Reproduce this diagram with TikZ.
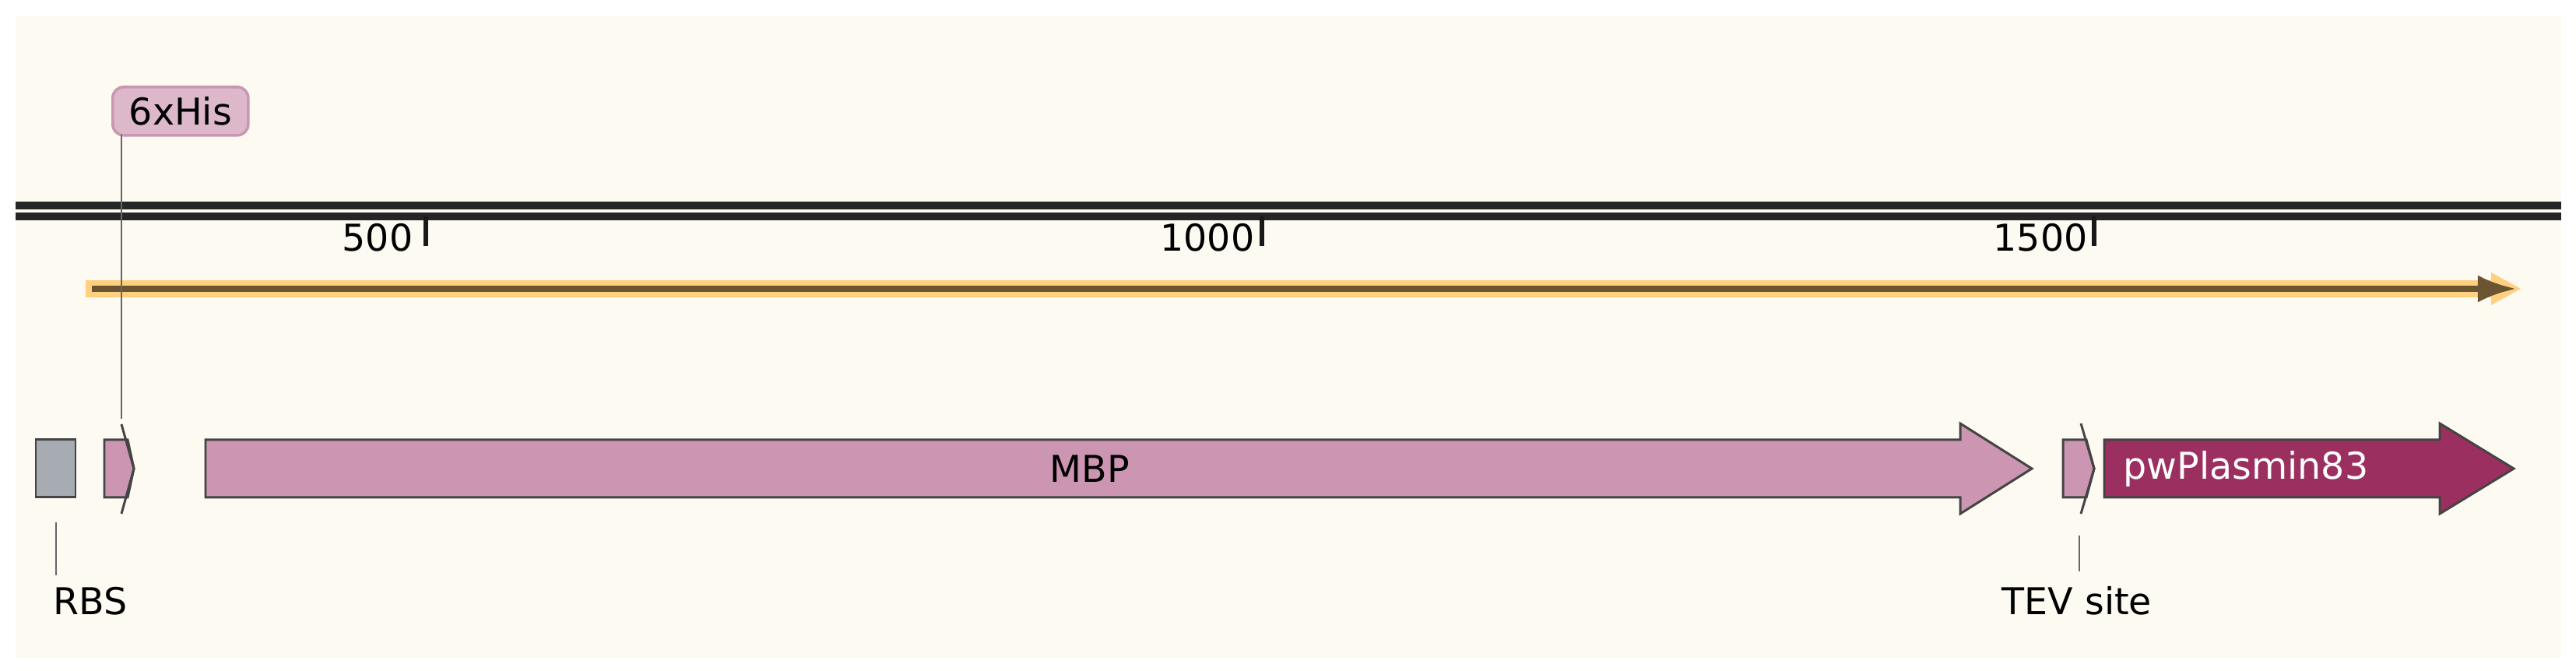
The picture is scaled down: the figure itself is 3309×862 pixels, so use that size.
\documentclass[tikz,border=0pt]{standalone}
\usepackage{fontspec}
\setmainfont{DejaVu Sans}
\usetikzlibrary{calc,arrows.meta}
\definecolor{bg}{HTML}{FDFAF2}
\definecolor{pinkf}{HTML}{CC96B2}
\definecolor{pinkl}{HTML}{DDB8CB}
\definecolor{pinkb}{HTML}{C998B0}
\definecolor{magf}{HTML}{9B3060}
\definecolor{grayf}{HTML}{A7ACB3}
\definecolor{outl}{HTML}{444444}
\definecolor{yel}{HTML}{FFD080}
\definecolor{brn}{HTML}{6B5530}
\tikzset{
  feat/.style={draw=outl,line width=0.85pt,line join=miter},
  lbl/.style={font=\fontsize{13.5}{15}\selectfont,inner sep=0pt},
  leader/.style={draw=gray!80!black,line width=0.8pt},
  tick/.style={line width=1.8pt,draw=black!90}
}
\begin{document}
\begin{tikzpicture}[x=0.01cm,y=-0.01cm]
\useasboundingbox (0,0) rectangle (3309,862);
\fill[white] (0,0) rectangle (3309,862);
\fill[bg] (20,20) rectangle (3290,845);
% backbone
\draw[line width=3pt,black!85] (20,264) -- (3290,264);
\draw[line width=3pt,black!85] (20,278) -- (3290,278);
% ticks
\draw[tick] (547,278) -- (547,316); \node[lbl,anchor=base] (t500) at (485,323) {500};
\draw[tick] (1621,278) -- (1621,316); \node[lbl,anchor=base] (t1000) at (1551,323) {1000};
\draw[tick] (2690,278) -- (2690,316); \node[lbl,anchor=base] (t1500) at (2621,323) {1500};
% yellow arrow
\coordinate (ya) at (110,371); \coordinate (yb) at (3229,371);
\draw[yel,line width=6pt] (ya) -- ($(yb)+(-10,0)$);
\fill[yel] (3200,350) -- (3238,371) -- (3200,392) -- cycle;
\draw[brn,line width=2pt,-{Latex[length=14pt,width=10pt]}] (118,371) -- (3232,371);
% RBS
\draw[feat,fill=grayf] (46,565) rectangle (97,639);
\node[lbl,anchor=base west] (rbsl) at (68,790) {RBS};
\draw[leader] (72,671) -- (72,739);
% 6xHis feature
\draw[feat,fill=pinkf] (134,565) -- (164,565) -- (172,602) -- (164,639) -- (134,639) -- cycle;
\draw[outl,line width=0.85pt] (156,545) -- (172,602) -- (156,660);
\node[draw=pinkb,fill=pinkl,rounded corners=4pt,line width=1pt,lbl,inner xsep=6pt,minimum height=0.62cm,anchor=north west] (his) at (143,110) {6xHis};
\draw[leader] (156,173) -- (156,538);
% MBP
\draw[feat,fill=pinkf] (264,565) -- (2518,565) -- (2518,544) -- (2610,602) -- (2518,660) -- (2518,639) -- (264,639) -- cycle;
\node[lbl] (mbp) at (1400,602) {MBP};
% TEV
\draw[feat,fill=pinkf] (2650,565) -- (2680,565) -- (2690,602) -- (2680,639) -- (2650,639) -- cycle;
\draw[outl,line width=0.85pt] (2673,544) -- (2690,602) -- (2673,660);
\draw[leader] (2671,688) -- (2671,734);
\node[lbl,anchor=base] (tev) at (2668,790) {TEV site};
% pwPlasmin83
\draw[feat,fill=magf] (2703,565) -- (3134,565) -- (3134,544) -- (3229,602) -- (3134,660) -- (3134,639) -- (2703,639) -- cycle;
\node[lbl,text=white] (pw) at (2885,602) {pwPlasmin83};
\end{tikzpicture}
\end{document}
